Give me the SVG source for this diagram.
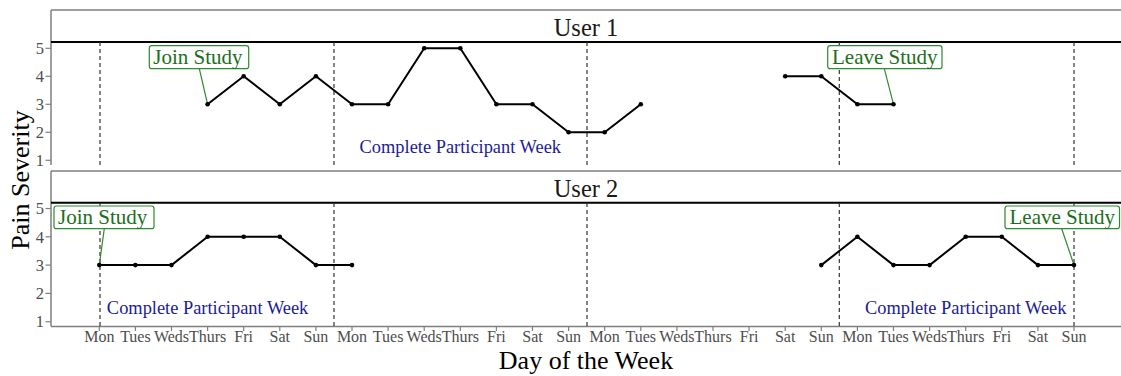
<svg xmlns="http://www.w3.org/2000/svg" width="1121" height="376" viewBox="0 0 1121 376">
<style>
text{font-family:"Liberation Serif","Times New Roman",serif}
.frame{stroke:#7f7f7f;stroke-width:1.5;fill:none}
.stripline{stroke:#000;stroke-width:2;fill:none}
.tick{stroke:#7f7f7f;stroke-width:1.2}
.ytl{font-size:16.5px;fill:#4d4d4d;text-anchor:end}
.xtl{font-size:16px;fill:#4d4d4d;text-anchor:middle}
.strip{font-size:24.5px;fill:#1a1a1a;text-anchor:middle}
.axtitle{font-size:26px;fill:#000;text-anchor:middle}
.vl{stroke:#333;stroke-width:1.2;stroke-dasharray:4 3;fill:none}
.data{stroke:#000;stroke-width:2;fill:none;stroke-linejoin:round}
.pt{fill:#000}
.lbox{fill:#fff;stroke:#2e8b2e;stroke-width:1.2}
.ltxt{font-size:21px;fill:#1b6e1b}
.leader{stroke:#2e8b2e;stroke-width:1.2}
.week{font-size:18.4px;fill:#1c1c96;text-anchor:middle}
</style>
<rect width="1121" height="376" fill="#fff"/>

<g id="panel1">
  <line class="frame" x1="51" y1="10" x2="1121" y2="10"/>
  <line class="frame" x1="51" y1="10" x2="51" y2="165"/>
  <line class="stripline" x1="51" y1="42" x2="1121" y2="42"/>
  <text class="strip" x="586" y="35.5">User 1</text>
  <g id="p1-yaxis">
    <line class="tick" x1="45.5" y1="48.3" x2="51" y2="48.3"/>
    <line class="tick" x1="45.5" y1="76.3" x2="51" y2="76.3"/>
    <line class="tick" x1="45.5" y1="104.3" x2="51" y2="104.3"/>
    <line class="tick" x1="45.5" y1="132.3" x2="51" y2="132.3"/>
    <line class="tick" x1="45.5" y1="160.3" x2="51" y2="160.3"/>
    <text class="ytl" x="44" y="54">5</text>
    <text class="ytl" x="44" y="82">4</text>
    <text class="ytl" x="44" y="110">3</text>
    <text class="ytl" x="44" y="138">2</text>
    <text class="ytl" x="44" y="166">1</text>
  </g>
</g>

<g id="panel2">
  <line class="frame" x1="51" y1="171" x2="1121" y2="171"/>
  <line class="frame" x1="51" y1="171" x2="51" y2="326.5"/>
  <line class="frame" x1="51" y1="326.5" x2="1121" y2="326.5"/>
  <line class="stripline" x1="51" y1="202.7" x2="1121" y2="202.7"/>
  <text class="strip" x="586" y="196.5">User 2</text>
  <g id="p2-yaxis">
    <line class="tick" x1="45.5" y1="208.5" x2="51" y2="208.5"/>
    <line class="tick" x1="45.5" y1="236.8" x2="51" y2="236.8"/>
    <line class="tick" x1="45.5" y1="265.1" x2="51" y2="265.1"/>
    <line class="tick" x1="45.5" y1="293.4" x2="51" y2="293.4"/>
    <line class="tick" x1="45.5" y1="321.7" x2="51" y2="321.7"/>
    <text class="ytl" x="44" y="214">5</text>
    <text class="ytl" x="44" y="242.5">4</text>
    <text class="ytl" x="44" y="270.8">3</text>
    <text class="ytl" x="44" y="299">2</text>
    <text class="ytl" x="44" y="327.4">1</text>
  </g>
</g>

<g id="x-axis">
  <g class="tick">
    <line x1="99.3" y1="326.5" x2="99.3" y2="331"/><line x1="135.4" y1="326.5" x2="135.4" y2="331"/><line x1="171.5" y1="326.5" x2="171.5" y2="331"/><line x1="207.6" y1="326.5" x2="207.6" y2="331"/><line x1="243.7" y1="326.5" x2="243.7" y2="331"/><line x1="279.8" y1="326.5" x2="279.8" y2="331"/><line x1="315.9" y1="326.5" x2="315.9" y2="331"/>
    <line x1="352" y1="326.5" x2="352" y2="331"/><line x1="388.1" y1="326.5" x2="388.1" y2="331"/><line x1="424.2" y1="326.5" x2="424.2" y2="331"/><line x1="460.3" y1="326.5" x2="460.3" y2="331"/><line x1="496.4" y1="326.5" x2="496.4" y2="331"/><line x1="532.5" y1="326.5" x2="532.5" y2="331"/><line x1="568.6" y1="326.5" x2="568.6" y2="331"/>
    <line x1="604.7" y1="326.5" x2="604.7" y2="331"/><line x1="640.8" y1="326.5" x2="640.8" y2="331"/><line x1="676.9" y1="326.5" x2="676.9" y2="331"/><line x1="713" y1="326.5" x2="713" y2="331"/><line x1="749.1" y1="326.5" x2="749.1" y2="331"/><line x1="785.2" y1="326.5" x2="785.2" y2="331"/><line x1="821.3" y1="326.5" x2="821.3" y2="331"/>
    <line x1="857.4" y1="326.5" x2="857.4" y2="331"/><line x1="893.5" y1="326.5" x2="893.5" y2="331"/><line x1="929.6" y1="326.5" x2="929.6" y2="331"/><line x1="965.7" y1="326.5" x2="965.7" y2="331"/><line x1="1001.8" y1="326.5" x2="1001.8" y2="331"/><line x1="1037.9" y1="326.5" x2="1037.9" y2="331"/><line x1="1074" y1="326.5" x2="1074" y2="331"/>
  </g>
  <text class="xtl" x="99.3" y="342">Mon</text><text class="xtl" x="135.4" y="342">Tues</text><text class="xtl" x="171.5" y="342">Weds</text><text class="xtl" x="207.6" y="342">Thurs</text><text class="xtl" x="243.7" y="342">Fri</text><text class="xtl" x="279.8" y="342">Sat</text><text class="xtl" x="315.9" y="342">Sun</text>
  <text class="xtl" x="352" y="342">Mon</text><text class="xtl" x="388.1" y="342">Tues</text><text class="xtl" x="424.2" y="342">Weds</text><text class="xtl" x="460.3" y="342">Thurs</text><text class="xtl" x="496.4" y="342">Fri</text><text class="xtl" x="532.5" y="342">Sat</text><text class="xtl" x="568.6" y="342">Sun</text>
  <text class="xtl" x="604.7" y="342">Mon</text><text class="xtl" x="640.8" y="342">Tues</text><text class="xtl" x="676.9" y="342">Weds</text><text class="xtl" x="713" y="342">Thurs</text><text class="xtl" x="749.1" y="342">Fri</text><text class="xtl" x="785.2" y="342">Sat</text><text class="xtl" x="821.3" y="342">Sun</text>
  <text class="xtl" x="857.4" y="342">Mon</text><text class="xtl" x="893.5" y="342">Tues</text><text class="xtl" x="929.6" y="342">Weds</text><text class="xtl" x="965.7" y="342">Thurs</text><text class="xtl" x="1001.8" y="342">Fri</text><text class="xtl" x="1037.9" y="342">Sat</text><text class="xtl" x="1074" y="342">Sun</text>
  <text class="axtitle" x="586" y="369">Day of the Week</text>
</g>
<text id="y-title" class="axtitle" transform="translate(29,180) rotate(-90)">Pain Severity</text>

<g id="week-lines">
  <path class="vl" d="M100 42V165M334 42V165M587 42V165M839.3 42V165M1074 42V165"/>
  <path class="vl" d="M100 203V326M334 203V326M587 203V326M839.3 203V326M1074 203V326"/>
</g>

<g id="week-labels">
  <text class="week" x="460.3" y="153">Complete Participant Week</text>
  <text class="week" x="207.6" y="313.5">Complete Participant Week</text>
  <text class="week" x="965.7" y="313.5">Complete Participant Week</text>
</g>

<g id="connectors">
  <polyline class="data" points="207.6,104.3 243.7,76.3 279.8,104.3 315.9,76.3 352,104.3 388.1,104.3 424.2,48.3 460.3,48.3 496.4,104.3 532.5,104.3 568.6,132.3 604.7,132.3 640.8,104.3"/>
  <polyline class="data" points="785.2,76.3 821.3,76.3 857.4,104.3 893.5,104.3"/>
  <polyline class="data" points="99.3,265.1 135.4,265.1 171.5,265.1 207.6,236.8 243.7,236.8 279.8,236.8 315.9,265.1 352,265.1"/>
  <polyline class="data" points="821.3,265.1 857.4,236.8 893.5,265.1 929.6,265.1 965.7,236.8 1001.8,236.8 1037.9,265.1 1074,265.1"/>
  <line class="leader" x1="199.3" y1="68.7" x2="207.6" y2="104.3"/>
  <line class="leader" x1="884.3" y1="68.7" x2="893.5" y2="104.3"/>
  <line class="leader" x1="104.3" y1="228.7" x2="99.3" y2="265.1"/>
  <line class="leader" x1="1061.7" y1="228.7" x2="1074" y2="265.1"/>
</g>

<g id="points">
  <circle class="pt" cx="207.6" cy="104.3" r="2.3"/><circle class="pt" cx="243.7" cy="76.3" r="2.3"/><circle class="pt" cx="279.8" cy="104.3" r="2.3"/><circle class="pt" cx="315.9" cy="76.3" r="2.3"/><circle class="pt" cx="352" cy="104.3" r="2.3"/><circle class="pt" cx="388.1" cy="104.3" r="2.3"/><circle class="pt" cx="424.2" cy="48.3" r="2.3"/><circle class="pt" cx="460.3" cy="48.3" r="2.3"/><circle class="pt" cx="496.4" cy="104.3" r="2.3"/><circle class="pt" cx="532.5" cy="104.3" r="2.3"/><circle class="pt" cx="568.6" cy="132.3" r="2.3"/><circle class="pt" cx="604.7" cy="132.3" r="2.3"/><circle class="pt" cx="640.8" cy="104.3" r="2.3"/>
  <circle class="pt" cx="785.2" cy="76.3" r="2.3"/><circle class="pt" cx="821.3" cy="76.3" r="2.3"/><circle class="pt" cx="857.4" cy="104.3" r="2.3"/><circle class="pt" cx="893.5" cy="104.3" r="2.3"/>
  <circle class="pt" cx="99.3" cy="265.1" r="2.3"/><circle class="pt" cx="135.4" cy="265.1" r="2.3"/><circle class="pt" cx="171.5" cy="265.1" r="2.3"/><circle class="pt" cx="207.6" cy="236.8" r="2.3"/><circle class="pt" cx="243.7" cy="236.8" r="2.3"/><circle class="pt" cx="279.8" cy="236.8" r="2.3"/><circle class="pt" cx="315.9" cy="265.1" r="2.3"/><circle class="pt" cx="352" cy="265.1" r="2.3"/>
  <circle class="pt" cx="821.3" cy="265.1" r="2.3"/><circle class="pt" cx="857.4" cy="236.8" r="2.3"/><circle class="pt" cx="893.5" cy="265.1" r="2.3"/><circle class="pt" cx="929.6" cy="265.1" r="2.3"/><circle class="pt" cx="965.7" cy="236.8" r="2.3"/><circle class="pt" cx="1001.8" cy="236.8" r="2.3"/><circle class="pt" cx="1037.9" cy="265.1" r="2.3"/><circle class="pt" cx="1074" cy="265.1" r="2.3"/>
</g>

<g id="join1">
  <rect class="lbox" x="149.3" y="45.7" width="99.4" height="23" rx="2.5"/>
  <text class="ltxt" x="153.3" y="64">Join Study</text>
</g>
<g id="leave1">
  <rect class="lbox" x="827.7" y="45.7" width="114.3" height="23" rx="2.5"/>
  <text class="ltxt" x="832" y="64">Leave Study</text>
</g>
<g id="join2">
  <rect class="lbox" x="54" y="206" width="100" height="22.7" rx="2.5"/>
  <text class="ltxt" x="58" y="224.3">Join Study</text>
</g>
<g id="leave2">
  <rect class="lbox" x="1005" y="206" width="114.5" height="22.7" rx="2.5"/>
  <text class="ltxt" x="1009.5" y="224.3">Leave Study</text>
</g>
</svg>
